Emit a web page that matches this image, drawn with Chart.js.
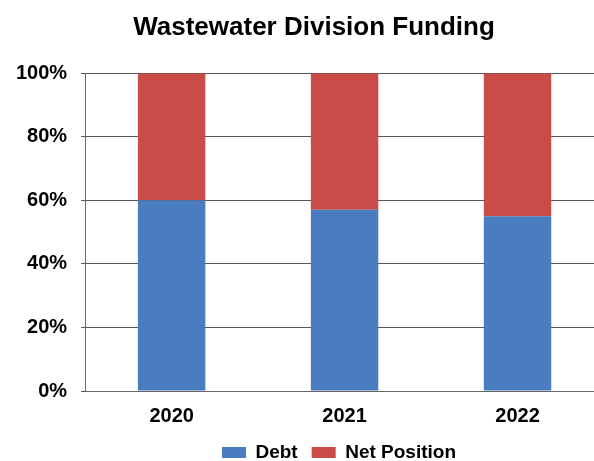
<!DOCTYPE html>
<html>
<head>
<meta charset="utf-8">
<script src="https://cdn.jsdelivr.net/npm/chart.js@4.4.1/dist/chart.umd.min.js"></script>
<style>
  html, body { margin: 0; padding: 0; background: #fff; overflow: hidden; }
  #wrap { width: 604px; height: 461px; position: relative; }
</style>
</head>
<body>
<div id="wrap"><canvas id="chart"></canvas></div>
<script>
// Wastewater Division Funding — stacked 100% columns

const years = ['2020', '2021', '2022'];
const debt = [60, 57, 55];
const netPosition = [40, 43, 45];
const yTicks = [0, 20, 40, 60, 80, 100];

const FONT = "'Liberation Sans', Arial, sans-serif";

// nudge title and legend sideways so they sit as in the source picture
const boxShift = {
  id: 'boxShift',
  afterLayout(chart) {
    const lg = chart.legend;
    if (lg) { lg.left += 36; lg.right += 36; }
    const tt = chart.titleBlock;
    if (tt) { tt.left += 11; tt.right += 11; }
  },
};

new Chart(document.getElementById('chart').getContext('2d'), {
  type: 'bar',
  data: {
    labels: years,
    datasets: [
      { label: 'Debt', data: debt, backgroundColor: '#4a7dc0', borderWidth: 0 },
      { label: 'Net Position', data: netPosition, backgroundColor: '#c94c49', borderWidth: 0 },
    ],
  },
  options: {
    responsive: true,
    maintainAspectRatio: false,
    animation: false,
    layout: { padding: { left: 2, right: 0, top: 0, bottom: -11 } },
    datasets: { bar: { categoryPercentage: 1, barPercentage: 0.39 } },
    plugins: {
      title: {
        display: true,
        text: 'Wastewater Division Funding',
        color: '#000',
        font: { family: FONT, size: 26, weight: 'bold' },
        padding: { top: 12, bottom: 30 },
      },
      legend: {
        position: 'bottom',
        labels: {
          color: '#000',
          font: { family: FONT, size: 19, weight: 'bold' },
          boxWidth: 24,
          boxHeight: 11,
          padding: 14,
        },
      },
      tooltip: { enabled: false },
    },
    scales: {
      x: {
        stacked: true,
        grid: { display: false, drawTicks: false },
        border: { color: '#666', width: 1 },
        ticks: { color: '#000', font: { family: FONT, size: 20, weight: 'bold' }, padding: 13 },
        afterFit: (axis) => { axis.height -= 12; },
      },
      y: {
        stacked: true,
        min: 0,
        max: 100,
        afterBuildTicks: (axis) => { axis.ticks = yTicks.map((v) => ({ value: v })); },
        grid: { color: '#555', lineWidth: 1, tickLength: 4 },
        border: { color: '#666', width: 1 },
        ticks: {
          color: '#000',
          font: { family: FONT, size: 20, weight: 'bold' },
          padding: 14,
          callback: (v) => `${v}%`,
        },
      },
    },
  },
  plugins: [boxShift],
});
</script>
</body>
</html>
